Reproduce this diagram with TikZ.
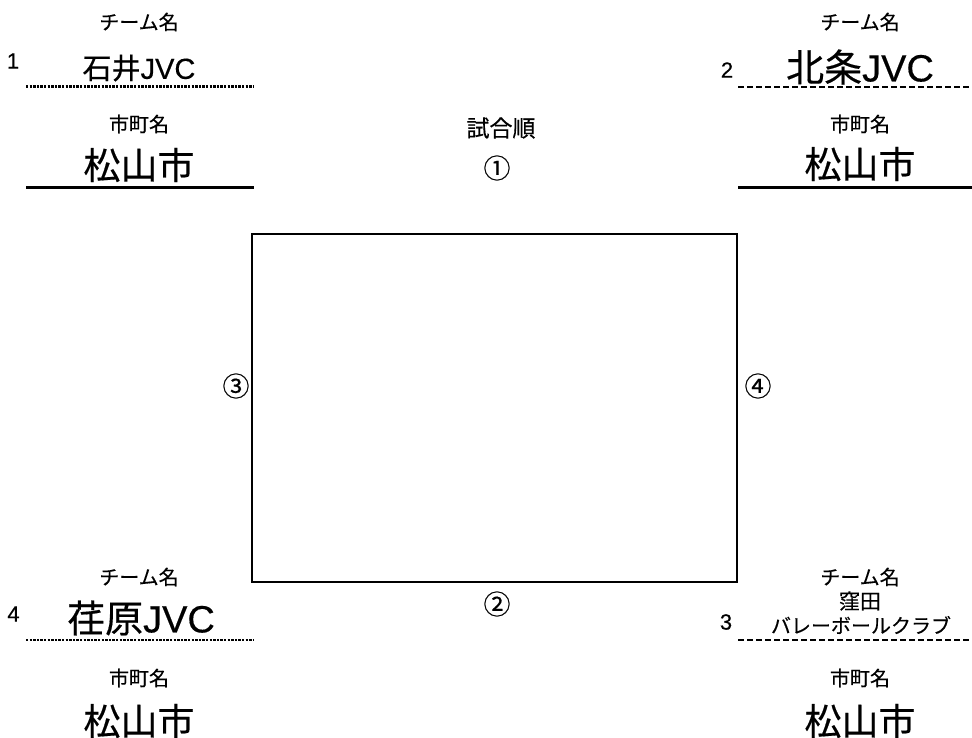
\documentclass[tikz,border=0pt]{standalone}
\usepackage{fontspec}
\setmainfont{Noto Sans CJK JP}[FakeBold=0.4]
\newfontfamily\latinsans{Liberation Sans}[FakeBold=0.4]
\begin{document}
\begin{tikzpicture}[x=1pt,y=-1pt,
  lbl/.style={inner sep=0pt,anchor=center},
  small/.style={lbl,font=\fontsize{20}{22}\selectfont},
  num/.style={lbl,font=\latinsans\fontsize{22}{24}\selectfont},
  city/.style={lbl,font=\fontsize{37}{40}\selectfont},
  big/.style={lbl,font=\fontsize{38}{42}\selectfont},
  circ/.style={lbl,font=\fontsize{27}{29}\selectfont},
  dotline/.style={line width=2.8pt,dash pattern=on 2.4pt off 1.2pt},
  dashline/.style={line width=2.4pt,dash pattern=on 6pt off 3pt},
  solidline/.style={line width=3pt}]
\useasboundingbox (0,0) rectangle (972,738);
% frame
\draw[line width=1.2pt] (252,234) rectangle (737,582);
\node[rectangle,minimum width=485pt,minimum height=348pt] (court) at (494.5,408) {};
% centre labels
\node[lbl,font=\fontsize{23}{25}\selectfont] (order) at (501,128) {試合順};
\node[circ] (c1) at (497,168) {①};
\node[circ] (c2) at (497,604) {②};
\node[circ] (c3) at (236,386) {③};
\node[circ] (c4) at (758,386) {④};
% team 1 (top-left)
\node[small] (t1lab) at (139,22) {チーム名};
\node[num] (n1) at (13,61) {1};
\node[lbl,font=\fontsize{29}{31}\selectfont] (t1) at (139,68) {石井{\latinsans JVC}};
\coordinate (d1a) at (26,86.5); \coordinate (d1b) at (254,86.5);
\draw[dotline] (d1a) -- (d1b);
\node[small] (c1lab) at (139,124) {市町名};
\node[city] (city1) at (139,165) {松山市};
\coordinate (s1a) at (26,187.5); \coordinate (s1b) at (254,187.5);
\draw[solidline] (s1a) -- (s1b);
% team 2 (top-right)
\node[small] (t2lab) at (860,22) {チーム名};
\node[num] (n2) at (727,70) {2};
\node[big] (t2) at (860,67) {北条{\latinsans JVC}};
\coordinate (d2a) at (738,87); \coordinate (d2b) at (972,87);
\draw[dashline] (d2a) -- (d2b);
\node[small] (c2lab) at (860,124) {市町名};
\node[city] (city2) at (860,164) {松山市};
\coordinate (s2a) at (738,188); \coordinate (s2b) at (972,188);
\draw[solidline] (s2a) -- (s2b);
% team 4 (bottom-left)
\node[small] (t4lab) at (139,577) {チーム名};
\node[num] (n4) at (13.5,614) {4};
\node[big] (t4) at (141,618) {荏原{\latinsans JVC}};
\coordinate (d4a) at (26,640); \coordinate (d4b) at (254,640);
\draw[dotline] (d4a) -- (d4b);
\node[small] (c4lab) at (139,678) {市町名};
\node[city] (city4) at (139,721) {松山市};
% team 3 (bottom-right)
\node[small] (t3lab) at (860,577) {チーム名};
\node[lbl,font=\fontsize{21}{23}\selectfont] (t3a) at (860,601) {窪田};
\node[lbl,font=\fontsize{20}{22}\selectfont] (t3b) at (861,625) {バレーボールクラブ};
\node[num] (n3) at (726,622) {3};
\coordinate (d3a) at (738,640); \coordinate (d3b) at (972,640);
\draw[dashline] (d3a) -- (d3b);
\node[small] (c3lab) at (860,678) {市町名};
\node[city] (city3) at (860,721) {松山市};
\end{tikzpicture}
\end{document}
